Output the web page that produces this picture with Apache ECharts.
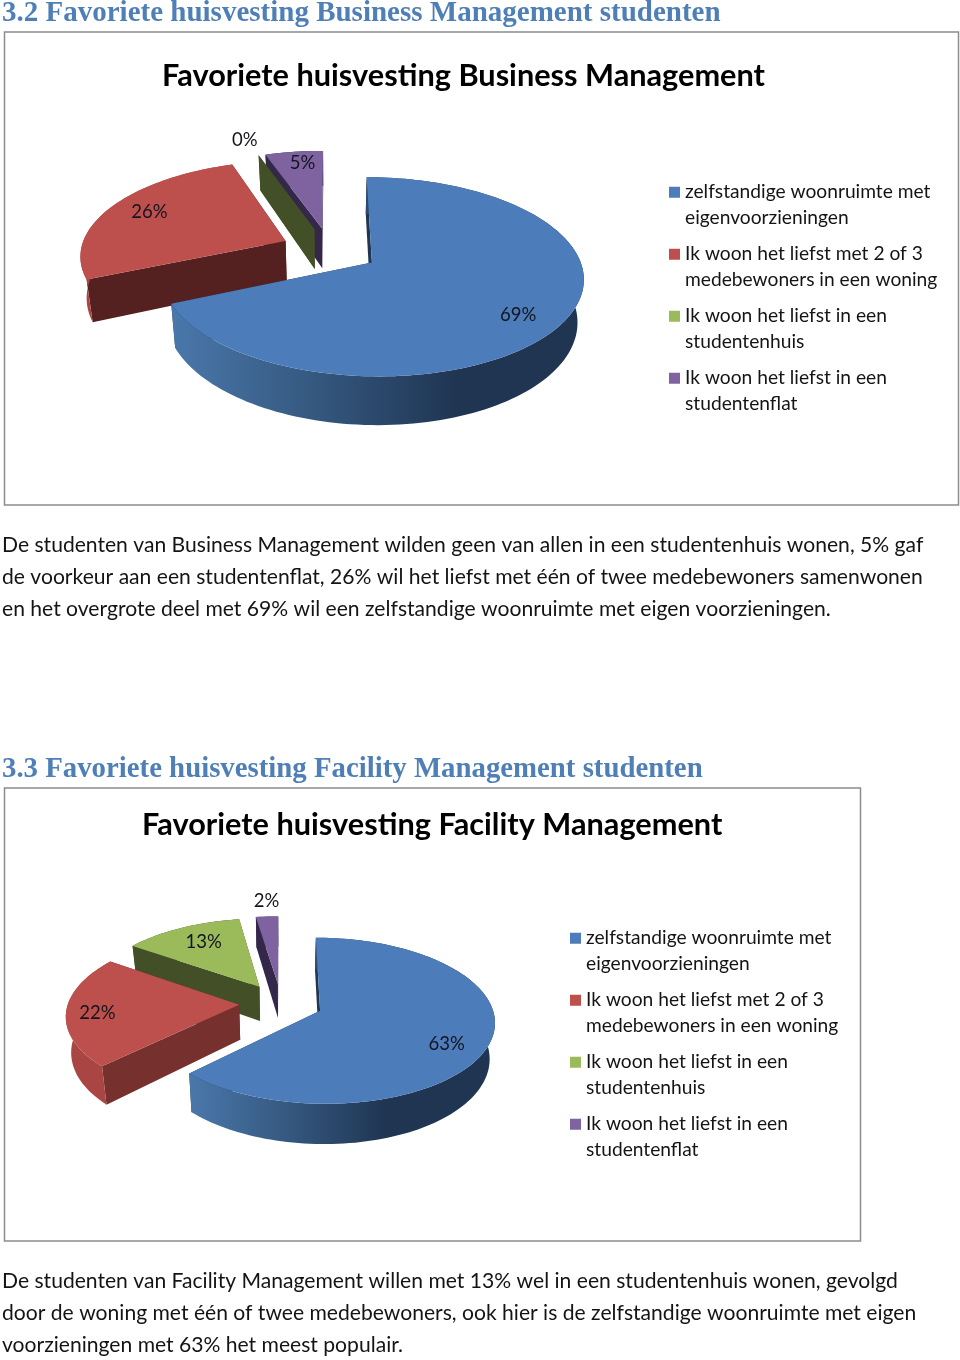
<!DOCTYPE html>
<html>
<head>
<meta charset="utf-8">
<title>Favoriete huisvesting</title>
<style>
  html, body { margin: 0; padding: 0; background: #fff; }
  #chart { width: 960px; height: 1360px; }
</style>
<script src="https://cdn.jsdelivr.net/npm/echarts@6/dist/echarts.min.js"></script>
</head>
<body>
<div id="chart"></div>
<script>
// data
const categories = [
  'zelfstandige woonruimte met\neigenvoorzieningen',
  'Ik woon het liefst met 2 of 3\nmedebewoners in een woning',
  'Ik woon het liefst in een\nstudentenhuis',
  'Ik woon het liefst in een\nstudentenflat'
]
const businessValues = [68.5, 26.2, 0, 5.3]
const facilityValues = [62.6, 22.1, 12.9, 2.4]
const businessTitle = 'Favoriete huisvesting Business Management'
const facilityTitle = 'Favoriete huisvesting Facility Management'
const businessHeading = '3.2 Favoriete huisvesting Business Management studenten'
const facilityHeading = '3.3 Favoriete huisvesting Facility Management studenten'
const businessText = [
  'De studenten van Business Management wilden geen van allen in een studentenhuis wonen, 5% gaf',
  'de voorkeur aan een studentenflat, 26% wil het liefst met één of twee medebewoners samenwonen',
  'en het overgrote deel met 69% wil een zelfstandige woonruimte met eigen voorzieningen.'
]
const facilityText = [
  'De studenten van Facility Management willen met 13% wel in een studentenhuis wonen, gevolgd',
  'door de woning met één of twee medebewoners, ook hier is de zelfstandige woonruimte met eigen',
  'voorzieningen met 63% het meest populair.'
]

const colors = ['#4c7dba', '#bd504d', '#9bba5a', '#7f63a1']
const bodyFont = 'Lato'

// pie projection, the 3d look of the original is a perspective on the disc
const businessPie = {
  values: businessValues, cx: 330, cy: 250, rx: 205, ry: 94, persp: 0.14, explode: 0.24, depth: 41,
  labelR: [0.81, 0.79, 1.25, 0.83],
  labelTurn: [5, 1.5, -0.5, 1.6],
  walls: ['#1f3552', '#552120', '#434f26', '#33274a']
}
const facilityPie = {
  values: facilityValues, cx: 281, cy: 1003, rx: 171, ry: 80, persp: 0.12, explode: 0.245, depth: 35,
  labelR: [0.79, 0.82, 0.73, 1.26],
  labelTurn: [7, -2, 1.5, 0.6],
  walls: ['#1f3552', '#76302d', '#434f26', '#33274a']
}

function project(pie, u, v, down) {
  const s = 1 / (1 + pie.persp * v)
  const x = u * pie.rx * s
  const y = -v * pie.ry * s
  if (down) {
    return [pie.cx + x * 0.975, pie.cy + y + pie.depth * s]
  }
  return [pie.cx + x, pie.cy + y]
}

function sliceAngles(pie, index) {
  const total = pie.values.reduce((a, b) => a + b, 0)
  const before = pie.values.slice(0, index).reduce((a, b) => a + b, 0)
  const start = before / total * Math.PI * 2
  const end = (before + pie.values[index]) / total * Math.PI * 2
  return { start, end, mid: (start + end) / 2 }
}

function makeSlice(pie, index, value) {
  const { start, end, mid } = sliceAngles(pie, index)
  const ox = Math.sin(mid) * pie.explode
  const oy = Math.cos(mid) * pie.explode
  const rim = (a, down) => project(pie, ox + Math.sin(a), oy + Math.cos(a), down)
  const apexTop = project(pie, ox, oy, false)
  const apexBottom = project(pie, ox, oy, true)

  const steps = Math.max(1, Math.ceil((end - start) / 0.03))
  const topArc = []
  const bottomArc = []
  for (let i = 0; i <= steps; i++) {
    const a = start + (end - start) * i / steps
    topArc.push(rim(a, false))
    bottomArc.push(rim(a, true))
  }

  const wallFill = pie.walls[index]
  let outerFill = wallFill
  if (index === 0) {
    const left = topArc[topArc.length - 1][0]
    outerFill = new echarts.graphic.LinearGradient(left, 0, pie.cx + pie.rx * 0.62, 0, [
      { offset: 0, color: '#4a78ab' },
      { offset: 0.5, color: '#35587f' },
      { offset: 1, color: '#1f3552' }
    ], true)
  } else if (index === 1) {
    outerFill = '#a94643'
  }

  const poly = (points, fill) => ({
    type: 'polygon',
    shape: { points },
    style: { fill }
  })

  const children = [
    poly([apexTop, topArc[0], bottomArc[0], apexBottom], wallFill),
    poly([apexTop, topArc[steps], bottomArc[steps], apexBottom], wallFill),
    poly(topArc.concat(bottomArc.slice().reverse()), outerFill)
  ]
  if (value > 0) {
    children.push(poly([apexTop].concat(topArc), colors[index]))
  }

  // label sits along the mid angle of the slice, nudged a little like the original
  const r = pie.labelR[index]
  const labelAngle = mid + pie.labelTurn[index] * Math.PI / 180
  const labelPos = project(pie, ox + Math.sin(labelAngle) * r, oy + Math.cos(labelAngle) * r, false)
  children.push({
    type: 'text',
    z2: 10,
    style: {
      text: Math.round(value) + '%',
      x: labelPos[0],
      y: labelPos[1],
      fill: '#14141e',
      font: '18.5px ' + bodyFont,
      align: 'center',
      verticalAlign: 'middle'
    }
  })
  return { type: 'group', children }
}

function pieSeries(pie) {
  // painted back to front
  return [3, 2, 1, 0].map(index => ({
    type: 'custom',
    name: categories[index],
    coordinateSystem: 'none',
    silent: true,
    animation: false,
    clip: false,
    itemStyle: { color: colors[index] },
    data: [[pie.values[index]]],
    renderItem(params, api) {
      return makeSlice(pie, index, api.value(0))
    }
  }))
}

function legendFor(left, top) {
  return {
    orient: 'vertical',
    left,
    top,
    padding: 0,
    icon: 'rect',
    itemWidth: 11,
    itemHeight: 11,
    itemGap: -14.5,
    selectedMode: false,
    data: categories,
    // blank first line so the swatch lines up with the first text line
    formatter: name => '\n' + name,
    textStyle: {
      fontFamily: bodyFont,
      fontSize: 19.2,
      lineHeight: 25.5,
      color: '#141414'
    }
  }
}

function textEl(text, x, y, font, fill) {
  return { type: 'text', silent: true, style: { text, x, y, font, fill, verticalAlign: 'middle' } }
}

function frameEl(x, y, width, height) {
  return {
    type: 'rect',
    silent: true,
    shape: { x, y, width, height },
    style: { fill: '#fff', stroke: '#8c8c8c', lineWidth: 1.5 }
  }
}

const headingFont = 'bold 29px "Liberation Serif"'
const headingFont2 = 'bold 28.8px "Liberation Serif"'
const headingColor = '#4f7fb7'
const titleFont = 'bold 30.7px ' + bodyFont
const paraFont = '21.1px ' + bodyFont

const graphicEls = [
  frameEl(4.5, 32, 954, 473),
  frameEl(4.5, 788, 856, 453),
  textEl(businessHeading, 2, 13.5, headingFont, headingColor),
  textEl(facilityHeading, 2, 770, headingFont2, headingColor),
  textEl(businessTitle, 162, 76.5, titleFont, '#000'),
  textEl(facilityTitle, 142, 825, titleFont, '#000')
]
businessText.forEach((line, i) => {
  graphicEls.push(textEl(line, 2, 545 + i * 32, paraFont, '#141414'))
})
facilityText.forEach((line, i) => {
  graphicEls.push(textEl(line, 2, 1281 + i * 32, paraFont, '#141414'))
})

const chart = echarts.init(document.getElementById('chart'))
chart.setOption({
  backgroundColor: '#fff',
  animation: false,
  legend: [legendFor(669, 154), legendFor(570, 900)],
  graphic: { elements: graphicEls.map(el => Object.assign({ z: -1 }, el)) },
  series: pieSeries(businessPie).concat(pieSeries(facilityPie))
})
</script>
</body>
</html>
